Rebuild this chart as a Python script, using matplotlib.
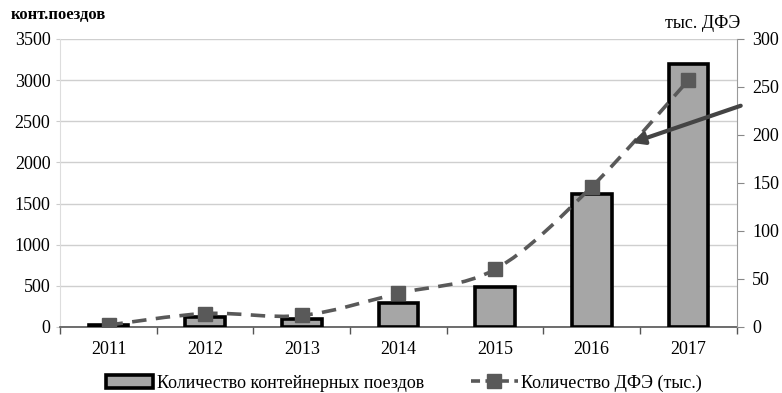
import numpy as np
import matplotlib
matplotlib.use("Agg")
import matplotlib.pyplot as plt
from matplotlib.path import Path
from matplotlib.patches import PathPatch, Patch
from matplotlib.lines import Line2D

plt.rcParams['font.family'] = ['Liberation Serif', 'DejaVu Serif']

years = ['2011', '2012', '2013', '2014', '2015', '2016', '2017']
trains = [30, 120, 100, 290, 480, 1620, 3200]      # конт. поездов
teu = [2, 14, 12, 35, 60, 146, 257]                # тыс. ДФЭ

bar_color = '#a6a6a6'
line_color = '#595959'


def smooth_path(xs, ys, k=1 / 6):
    # cubic bezier through every point (catmull-rom style tangents)
    verts = [(xs[0], ys[0])]
    codes = [Path.MOVETO]
    n = len(xs)
    for i in range(n - 1):
        x0, y0 = (xs[i - 1], ys[i - 1]) if i > 0 else (xs[i], ys[i])
        x1, y1 = xs[i], ys[i]
        x2, y2 = xs[i + 1], ys[i + 1]
        x3, y3 = (xs[i + 2], ys[i + 2]) if i + 2 < n else (x2, y2)
        c1 = (x1 + (x2 - x0) * k, y1 + (y2 - y0) * k)
        c2 = (x2 - (x3 - x1) * k, y2 - (y3 - y1) * k)
        verts += [c1, c2, (x2, y2)]
        codes += [Path.CURVE4] * 3
    return Path(verts, codes)


fig = plt.figure(figsize=(7.82, 3.93), dpi=100)
ax = fig.add_axes([0.077, 0.168, 0.865, 0.733])
ax2 = ax.twinx()

x = np.arange(len(years))
ax.bar(x, trains, width=0.41, color=bar_color, edgecolor='black', linewidth=2.6, zorder=3)

ax.set_xlim(-0.5, len(years) - 0.5)
ax.set_ylim(0, 3500)
ax.set_yticks(np.arange(0, 3501, 500))
ax.set_xticks(x)
ax.set_xticklabels(years)
ax.set_xticks(np.arange(-0.5, len(years), 1), minor=True)
ax.tick_params(axis='x', which='major', length=0, pad=10, labelsize=13)
ax.tick_params(axis='x', which='minor', length=5, width=1, color='#555555')
ax.tick_params(axis='y', length=3, color='#cccccc', labelsize=13, pad=4)
ax.grid(axis='y', color='#cfcfcf', linewidth=1, zorder=0)
ax.set_axisbelow(True)
for s in ['top', 'right']:
    ax.spines[s].set_visible(False)
ax.spines['left'].set_color('#dddddd')
ax.spines['bottom'].set_color('#555555')
ax.spines['bottom'].set_linewidth(1.2)

ax2.set_ylim(0, 300)
ax2.set_yticks(np.arange(0, 301, 50))
ax2.tick_params(axis='y', length=5, color='#888888', labelsize=13, pad=6)
for s in ['top', 'left', 'bottom']:
    ax2.spines[s].set_visible(False)
ax2.spines['right'].set_color('#999999')

ax2.add_patch(PathPatch(smooth_path(x, teu), fill=False, edgecolor=line_color,
                        linewidth=2.6, linestyle=(0, (4, 2.6)), zorder=4))
ax2.plot(x, teu, linestyle='none', marker='s', markersize=10,
         color=line_color, zorder=5)

fig.text(0.014, 0.962, 'конт.поездов', fontsize=12, fontweight='bold', ha='left', va='center')
fig.text(0.947, 0.918, 'тыс. ДФЭ', fontsize=13, ha='right', va='bottom')

ax2.annotate('', xy=(0.845, 0.639), xycoords='axes fraction',
             xytext=(1.006, 0.768), textcoords='axes fraction',
             arrowprops=dict(arrowstyle='-|>', color='#444444', lw=3,
                             mutation_scale=18, shrinkA=0, shrinkB=0),
             annotation_clip=False, zorder=6)

handles = [Patch(facecolor=bar_color, edgecolor='black', linewidth=2.6),
           Line2D([0], [0], color=line_color, linewidth=2.6, linestyle=(0, (2.5, 1.5)),
                  marker='s', markersize=10)]
fig.legend(handles, ['Количество контейнерных поездов', 'Количество ДФЭ (тыс.)'],
           loc='center left', bbox_to_anchor=(0.115, 0.025), ncol=2, frameon=False,
           fontsize=13, handlelength=2.6, handleheight=0.8, columnspacing=2.6,
           handletextpad=0.2)

fig.savefig('out.png', dpi=100)
